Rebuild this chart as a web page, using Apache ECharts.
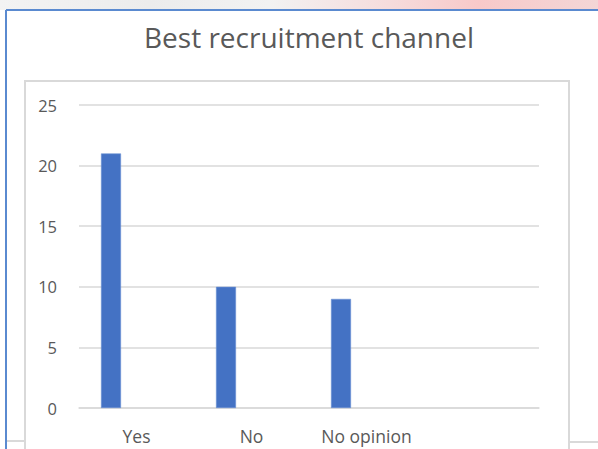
<!DOCTYPE html>
<html>
<head>
<meta charset="utf-8">
<script src="https://cdn.jsdelivr.net/npm/echarts@6/dist/echarts.min.js"></script>
<style>
    html, body { margin: 0; padding: 0; background: #ffffff; }
    #wrap { position: relative; width: 598px; height: 449px; overflow: hidden; background: #ffffff; }
    #strip { position: absolute; left: 0; top: 0; width: 598px; height: 10px;
        background: linear-gradient(to right, #f3f3f3 0%, #ececec 25%, #f2f2f2 45%, #f6dcdc 65%, #f8c9c9 80%, #f3d6d6 100%); }
    #a { position: absolute; left: 0; top: 0; width: 598px; height: 449px; }
</style>
</head>
<body>
<div id="wrap">
    <div id="strip"></div>
    <div id="a"></div>
</div>
<script>
    var titleText = 'Best recruitment channel';
    var categories = ['Yes', 'No', 'No opinion', ''];
    var answers = [21, 10, 9, '-'];
    var spare = ['-', '-', '-', '-'];
    var yMin = 0, yMax = 25, yStep = 5;

    var chart = echarts.init(document.getElementById('a'), null, { renderer: 'svg' });
    chart.setOption({
        animation: false,
        backgroundColor: 'transparent',
        textStyle: { fontFamily: 'Open Sans' },
        title: {
            text: titleText,
            left: 304,
            top: 18,
            textAlign: 'center',
            textStyle: { fontFamily: 'Open Sans', fontSize: 28, fontWeight: 'normal', color: '#595959' }
        },
        grid: { left: 79, right: 59, top: 105, bottom: 41 },
        xAxis: {
            type: 'category',
            data: categories,
            axisLine: { show: true, lineStyle: { color: '#d9d9d9', width: 1.5 } },
            axisTick: { show: false },
            axisLabel: { color: '#595959', fontSize: 17.5, margin: 19, interval: 0, hideOverlap: false }
        },
        yAxis: {
            type: 'value',
            min: yMin,
            max: yMax,
            interval: yStep,
            axisLine: { show: false },
            axisTick: { show: false },
            axisLabel: { color: '#595959', fontSize: 16.5, margin: 22 },
            splitLine: { lineStyle: { color: '#d9d9d9', width: 1.5 } }
        },
        series: [
            {
                type: 'bar',
                data: answers,
                barWidth: 20,
                barGap: '155%',
                itemStyle: { color: '#4472c4', borderColor: '#6a90d4', borderWidth: 0.6 }
            },
            {
                type: 'bar',
                data: spare,
                barWidth: 20,
                itemStyle: { color: '#ed7d31' }
            }
        ],
        graphic: [
            // outer window frame (blue)
            { type: 'line', shape: { x1: 6, y1: 10, x2: 598, y2: 10 }, style: { stroke: '#5a8ad0', lineWidth: 2 } },
            { type: 'line', shape: { x1: 6, y1: 10, x2: 6, y2: 449 }, style: { stroke: '#5a8ad0', lineWidth: 2 } },
            // inner chart area frame (gray)
            { type: 'polyline', shape: { points: [[25, 449], [25, 81], [569, 81], [569, 449]] }, style: { stroke: '#d9d9d9', lineWidth: 2, fill: null } },
            { type: 'line', shape: { x1: 7, y1: 441, x2: 25, y2: 441 }, style: { stroke: '#d9d9d9', lineWidth: 2 } },
            { type: 'line', shape: { x1: 569, y1: 442, x2: 598, y2: 442 }, style: { stroke: '#d9d9d9', lineWidth: 2 } }
        ]
    });
</script>
</body>
</html>
